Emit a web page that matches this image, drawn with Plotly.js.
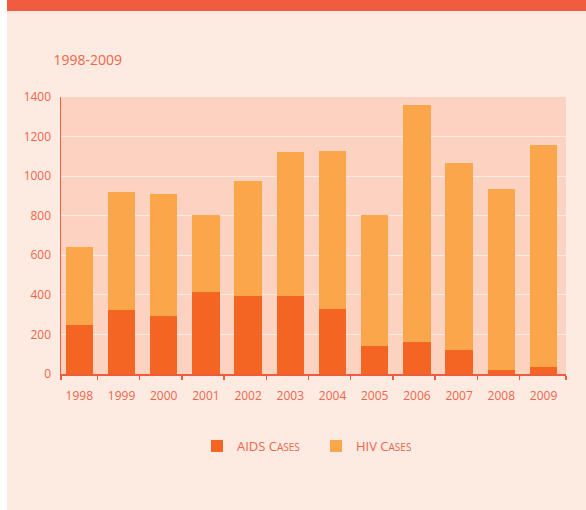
<!DOCTYPE html>
<html><head><meta charset="utf-8">
<script src="https://cdn.plot.ly/plotly-3.0.1.min.js"></script>
<style>html,body{margin:0;padding:0;background:#fff;} #chart{width:586px;height:510px;}</style>
</head><body><div id="chart"></div>
<script>
const years = [1998, 1999, 2000, 2001, 2002, 2003, 2004, 2005, 2006, 2007, 2008, 2009];
const aidsCases = [250, 325, 295, 416, 396, 396, 330, 143, 163, 123, 22, 37];
const hivCases = [394, 597, 616, 389, 581, 728, 799, 662, 1198, 945, 915, 1122];
const yTickVals = [0, 200, 400, 600, 800, 1000, 1200, 1400];
const chartTitle = '1998-2009';
const seriesNames = ['AIDS C<span style="font-size:10px">ASES</span>', 'HIV C<span style="font-size:10px">ASES</span>'];

const textColor = '#F0654A';
const axisColor = '#EF5B40';
const font = 'Open Sans, Noto Sans, sans-serif';

const W = 586, H = 510, L = 61, R = 20, T = 97, B = 136;
const pw = W - L - R, ph = H - T - B;
const px = v => (v - L) / pw;
const py = v => (H - B - v) / ph;

const xMin = 1997.566, xMax = 2009.533;
const boundaries = years.slice(0, -1).map(y => y + 0.43).concat([xMin + 0.001, xMax - 0.001]);

const traces = [
  {type: 'bar', x: years, y: aidsCases, name: seriesNames[0], marker: {color: '#F26522'}, hoverinfo: 'x+y'},
  {type: 'bar', x: years, y: hivCases, name: seriesNames[1], marker: {color: '#FAA64A'}, hoverinfo: 'x+y'}
];

const layout = {
  width: W, height: H,
  margin: {l: L, r: R, t: T, b: B, pad: 0},
  paper_bgcolor: '#FDEAE1',
  plot_bgcolor: '#FCD3C1',
  barmode: 'stack',
  bargap: 0.35,
  font: {family: font, color: textColor, size: 12},
  title: {text: chartTitle, font: {family: font, size: 14, color: textColor},
          xref: 'container', x: 53.5 / W, xanchor: 'left', yref: 'container', y: 1 - 60 / H, yanchor: 'middle'},
  xaxis: {
    type: 'linear', range: [xMin, xMax], fixedrange: true,
    tickmode: 'array', tickvals: years, ticktext: years.map(String),
    ticks: '', showgrid: false, zeroline: false,
    showline: true, linecolor: axisColor, linewidth: 1.5,
    ticklabelstandoff: 10,
    tickfont: {family: font, size: 12, color: textColor},
    minor: {tickmode: 'array', tickvals: boundaries, ticks: 'outside', ticklen: 4, tickwidth: 1.5, tickcolor: axisColor, showgrid: false}
  },
  yaxis: {
    range: [0, 1400], fixedrange: true,
    tickmode: 'array', tickvals: yTickVals,
    ticks: '', showgrid: true, gridcolor: '#FDEBE3', gridwidth: 1.2,
    zeroline: false, showline: true, linecolor: axisColor, linewidth: 1.5,
    ticklabelstandoff: 6,
    tickfont: {family: font, size: 12, color: textColor}
  },
  showlegend: true,
  legend: {orientation: 'h', xref: 'paper', x: px(197), xanchor: 'left', y: py(446), yanchor: 'middle',
           font: {family: font, size: 13, color: textColor}, bgcolor: 'rgba(0,0,0,0)',
           traceorder: 'normal', itemclick: false, itemdoubleclick: false,
           entrywidth: 74, entrywidthmode: 'pixels'},
  shapes: [
    {type: 'rect', xref: 'paper', yref: 'paper', x0: px(-5), x1: px(7), y0: py(520), y1: py(-5), fillcolor: '#FFFFFF', line: {width: 0}, layer: 'below'},
    {type: 'rect', xref: 'paper', yref: 'paper', x0: px(7), x1: px(590), y0: py(11), y1: py(-5), fillcolor: '#F15B40', line: {width: 0}, layer: 'below'}
  ]
};

Plotly.newPlot('chart', traces, layout, {displayModeBar: false, staticPlot: true});
</script>
</body></html>
